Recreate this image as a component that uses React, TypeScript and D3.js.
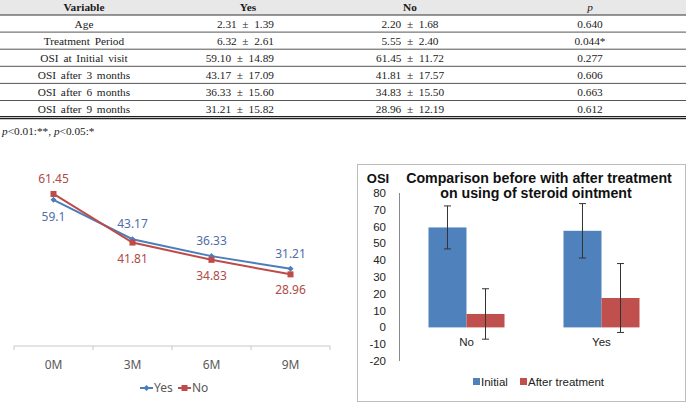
import React from 'react';
import * as d3 from 'd3';

// ---- Table data ----
const tableVars = ['Age', 'Treatment Period', 'OSI at Initial visit', 'OSI after 3 months', 'OSI after 6 months', 'OSI after 9 months'];
const yesMean = [2.31, 6.32, 59.10, 43.17, 36.33, 31.21];
const yesSd = [1.39, 2.61, 14.89, 17.09, 15.60, 15.82];
const noMean = [2.20, 5.55, 61.45, 41.81, 34.83, 28.96];
const noSd = [1.68, 2.40, 11.72, 17.57, 15.50, 12.19];
const pValues = ['0.640', '0.044*', '0.277', '0.606', '0.663', '0.612'];

// ---- Line chart data ----
const months = ['0M', '3M', '6M', '9M'];
const yesLine = [59.1, 43.17, 36.33, 31.21];
const noLine = [61.45, 41.81, 34.83, 28.96];

// ---- Bar chart data ----
const barGroups = ['No', 'Yes'];
const barSeries = ['Initial', 'After treatment'];
const initialVals = [59.5, 57.5];
const initialErr = [12.8, 16.2];
const afterVals = [8, 17.5];
const afterErr = [15, 20.5];
const barTicks = [80, 70, 60, 50, 40, 30, 20, 10, 0, -10, -20];

const BLUE = '#4F81BD';
const RED = '#C0504D';
const LBLUE = '#4A7EBB';
const LRED = '#BE4B48';

function Table() {
  const serif = '"Liberation Serif", "DejaVu Serif", serif';
  const colX = [84, 248, 410, 590];
  const rowH = 17.1;
  const top = 15;
  return (
    <g fontFamily={serif} fontSize={11.3} fill="#1a1a1a">
      <rect x={0} y={0} width={686} height={15} fill="#E8E8E8" />
      <text x={colX[0]} y={11} textAnchor="middle" fontWeight="bold">Variable</text>
      <text x={colX[1]} y={11} textAnchor="middle" fontWeight="bold">Yes</text>
      <text x={colX[2]} y={11} textAnchor="middle" fontWeight="bold">No</text>
      <text x={colX[3]} y={11} textAnchor="middle" fontStyle="italic">p</text>
      <line x1={0} x2={686} y1={15} y2={15} stroke="#333" strokeWidth={1.2} />
      {tableVars.map((v, i) => {
        const yc = top + rowH * i + rowH / 2 + 4;
        const yl = top + rowH * (i + 1);
        const last = i === tableVars.length - 1;
        return (
          <g key={v}>
            <text x={colX[0]} y={yc} textAnchor="middle" wordSpacing="2">{v}</text>
            <text x={274} y={yc} textAnchor="end" style={{ whiteSpace: 'pre' }}>{`${yesMean[i].toFixed(2)}  ±  ${yesSd[i].toFixed(2)}`}</text>
            <text x={colX[2]} y={yc} textAnchor="middle" style={{ whiteSpace: 'pre' }}>{`${noMean[i].toFixed(2)}  ±  ${noSd[i].toFixed(2)}`}</text>
            <text x={colX[3]} y={yc} textAnchor="middle">{pValues[i]}</text>
            {last ? (
              <g>
                <line x1={0} x2={686} y1={yl - 1} y2={yl - 1} stroke="#222" strokeWidth={1.2} />
                <line x1={0} x2={686} y1={yl + 1} y2={yl + 1} stroke="#222" strokeWidth={1.2} />
              </g>
            ) : (
              <line x1={0} x2={686} y1={yl} y2={yl} stroke="#555" strokeWidth={1} />
            )}
          </g>
        );
      })}
      <text x={2} y={135} fontSize={11.3}>
        <tspan fontStyle="italic">p</tspan>
        <tspan>{'<0.01:**, '}</tspan>
        <tspan fontStyle="italic">p</tspan>
        <tspan>{'<0.05:*'}</tspan>
      </text>
    </g>
  );
}

function LineChart() {
  const x = d3.scaleBand<string>().domain(months).range([14, 330]);
  const y = d3.scaleLinear().domain([0, 70]).range([346, 346 - 70 * 2.474]);
  const cx = (m: string) => (x(m) as number) + x.bandwidth() / 2;
  const line = d3.line<number>().x((_, i) => cx(months[i])).y((d) => y(d));
  const font = '"Noto Sans", "Open Sans", sans-serif';
  const ticks = [...months.map((m) => x(m) as number), 330];
  return (
    <g fontFamily={font}>
      <line x1={14} x2={330} y1={346} y2={346} stroke="#C8C8C8" strokeWidth={1} />
      {ticks.map((t, i) => (
        <line key={i} x1={t} x2={t} y1={346} y2={350} stroke="#C8C8C8" />
      ))}
      {months.map((m) => (
        <text key={m} x={cx(m)} y={369} textAnchor="middle" fontSize={12} fill="#595959">{m}</text>
      ))}
      <path d={line(yesLine) as string} fill="none" stroke={LBLUE} strokeWidth={2} />
      <path d={line(noLine) as string} fill="none" stroke={LRED} strokeWidth={2} />
      {yesLine.map((v, i) => (
        <path key={'ym' + i} d={`M${cx(months[i])},${y(v) - 3}l3,3l-3,3l-3,-3z`} fill={LBLUE} />
      ))}
      {noLine.map((v, i) => (
        <rect key={'nm' + i} x={cx(months[i]) - 3} y={y(v) - 3} width={6} height={6} fill={LRED} />
      ))}
      {yesLine.map((v, i) => (
        <text key={'yl' + i} x={cx(months[i])} y={i === 0 ? y(v) + 21 : y(v) - 11} textAnchor="middle" fontSize={12} fill="#4F6EA8">{String(v)}</text>
      ))}
      {noLine.map((v, i) => (
        <text key={'nl' + i} x={cx(months[i])} y={i === 0 ? y(v) - 11 : y(v) + 20} textAnchor="middle" fontSize={12} fill="#B04A47">{String(v)}</text>
      ))}
      <g fontSize={12} fill="#595959">
        <line x1={140} x2={153} y1={388} y2={388} stroke={LBLUE} strokeWidth={2} />
        <path d={`M146.5,385l3,3l-3,3l-3,-3z`} fill={LBLUE} />
        <text x={154} y={392}>Yes</text>
        <line x1={178} x2={191} y1={388} y2={388} stroke={LRED} strokeWidth={2} />
        <rect x={181.5} y={385} width={6} height={6} fill={LRED} />
        <text x={192} y={392}>No</text>
      </g>
    </g>
  );
}

function BarChart() {
  const x0 = d3.scaleBand<string>().domain(barGroups).range([399, 669]);
  const x1 = d3.scaleBand<string>().domain(barSeries).range([0, x0.bandwidth()]).paddingOuter(0.776);
  const y = d3.scaleLinear().domain([-20, 80]).range([361, 193]);
  const font = '"Liberation Sans", Arial, sans-serif';
  const series = [
    { name: 'Initial', vals: initialVals, errs: initialErr, color: BLUE },
    { name: 'After treatment', vals: afterVals, errs: afterErr, color: RED },
  ];
  return (
    <g fontFamily={font}>
      <rect x={357.5} y={164.5} width={328} height={237} fill="#fff" stroke="#BDBDBD" />
      <text x={378} y={183} textAnchor="middle" fontSize={13} fontWeight="bold" fill="#111">OSI</text>
      <text x={539} y={183} textAnchor="middle" fontSize={14.2} fontWeight="bold" fill="#111">Comparison before with after treatment</text>
      <text x={536} y={198} textAnchor="middle" fontSize={14.2} fontWeight="bold" fill="#111">on using of steroid ointment</text>
      <line x1={399.5} x2={399.5} y1={y(80)} y2={y(-20)} stroke="#888" />
      {barTicks.map((t) => (
        <text key={t} x={386} y={y(t) + 4} textAnchor="end" fontSize={11.5} fill="#222">{t}</text>
      ))}
      {barGroups.map((g, gi) => (
        <g key={g}>
          {series.map((s) => {
            const bx = (x0(g) as number) + (x1(s.name) as number);
            const v = s.vals[gi];
            const e = s.errs[gi];
            const mx = bx + x1.bandwidth() / 2;
            return (
              <g key={s.name}>
                <rect x={bx} y={y(Math.max(v, 0))} width={x1.bandwidth()} height={Math.abs(y(v) - y(0))} fill={s.color} />
                <line x1={mx} x2={mx} y1={y(v + e)} y2={y(v - e)} stroke="#333" strokeWidth={1} />
                <line x1={mx - 3.5} x2={mx + 3.5} y1={y(v + e)} y2={y(v + e)} stroke="#333" />
                <line x1={mx - 3.5} x2={mx + 3.5} y1={y(v - e)} y2={y(v - e)} stroke="#333" />
              </g>
            );
          })}
          <text x={(x0(g) as number) + x0.bandwidth() / 2} y={346} textAnchor="middle" fontSize={11.5} fill="#222">{g}</text>
        </g>
      ))}
      <rect x={473} y={378} width={7} height={7} fill={BLUE} />
      <text x={481} y={386} fontSize={11.5} fill="#222">Initial</text>
      <rect x={520} y={378} width={7} height={7} fill={RED} />
      <text x={528} y={386} fontSize={11.5} fill="#222">After treatment</text>
    </g>
  );
}

export default function App() {
  return (
    <svg width={690} height={412} style={{ position: 'absolute', left: 0, top: 0, background: '#fff' }}>
      <rect x={0} y={0} width={690} height={412} fill="#fff" />
      <Table />
      <LineChart />
      <BarChart />
    </svg>
  );
}
